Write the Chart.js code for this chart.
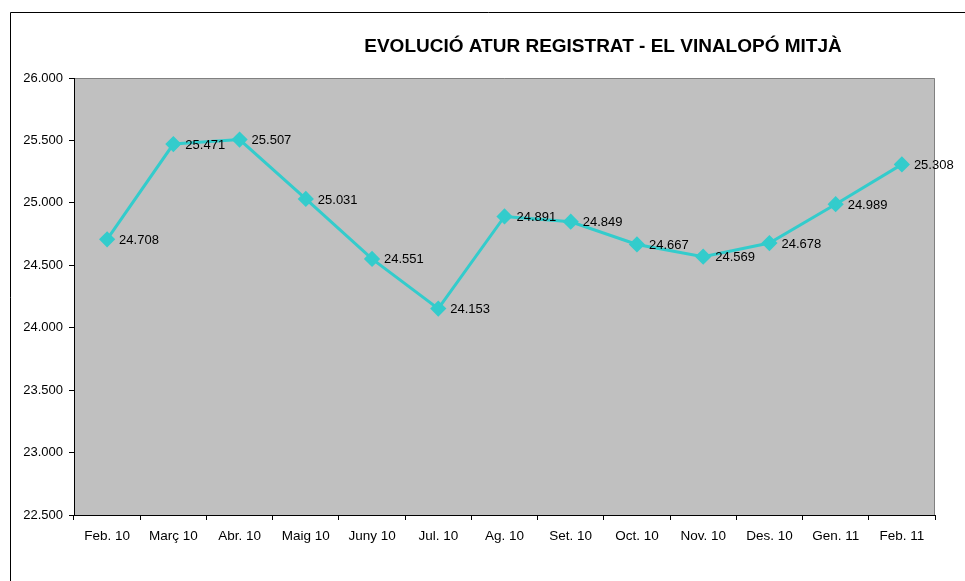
<!DOCTYPE html>
<html>
<head>
<meta charset="utf-8">
<script src="https://cdn.jsdelivr.net/npm/chart.js@4/dist/chart.umd.min.js"></script>
<style>
  body { margin: 0; background: #fff; }
  #wrap { width: 965px; height: 581px; }
</style>
</head>
<body>
<div id="wrap"><canvas id="chart"></canvas></div>
<script>
const months = ['Feb. 10', 'Març 10', 'Abr. 10', 'Maig 10', 'Juny 10', 'Jul. 10', 'Ag. 10',
  'Set. 10', 'Oct. 10', 'Nov. 10', 'Des. 10', 'Gen. 11', 'Feb. 11'];
const atur = [24708, 25471, 25507, 25031, 24551, 24153, 24891, 24849, 24667, 24569, 24678, 24989, 25308];
const yMin = 22500;
const yMax = 26000;
const yStep = 500;
const title = 'EVOLUCIÓ ATUR REGISTRAT - EL VINALOPÓ MITJÀ';

const FONT = 'Liberation Sans, Arial, sans-serif';

// 24708 -> "24.708"
const fmt = v => v.toLocaleString('de-DE');

const framePlugin = {
  id: 'frame',
  beforeDraw(chart) {
    const { ctx, chartArea: a } = chart;
    ctx.save();
    ctx.fillStyle = '#c0c0c0';
    ctx.fillRect(a.left, a.top, a.right - a.left, a.bottom - a.top);
    ctx.strokeStyle = '#808080';
    ctx.lineWidth = 1;
    ctx.beginPath();
    ctx.moveTo(a.left, a.top + 0.5);
    ctx.lineTo(a.right - 0.5, a.top + 0.5);
    ctx.lineTo(a.right - 0.5, a.bottom);
    ctx.stroke();
    // outer chart border
    ctx.strokeStyle = '#000';
    ctx.beginPath();
    ctx.moveTo(10.5, 590);
    ctx.lineTo(10.5, 12.5);
    ctx.lineTo(970, 12.5);
    ctx.stroke();
    // title
    ctx.fillStyle = '#000';
    ctx.font = 'bold 19px ' + FONT;
    ctx.textAlign = 'center';
    ctx.textBaseline = 'middle';
    ctx.fillText(title, 603, 47);
    ctx.restore();
  },
  afterDatasetsDraw(chart) {
    const { ctx } = chart;
    const meta = chart.getDatasetMeta(0);
    ctx.save();
    ctx.fillStyle = '#000';
    ctx.font = '13px ' + FONT;
    ctx.textAlign = 'left';
    ctx.textBaseline = 'middle';
    meta.data.forEach((pt, i) => {
      ctx.fillText(fmt(atur[i]), pt.x + 12, pt.y + 1);
    });
    ctx.restore();
  }
};

new Chart(document.getElementById('chart'), {
  type: 'line',
  data: {
    labels: months,
    datasets: [{
      data: atur,
      borderColor: '#33cccc',
      backgroundColor: '#33cccc',
      borderWidth: 3,
      pointStyle: 'rectRot',
      pointRadius: 6,
      pointHoverRadius: 6,
      tension: 0
    }]
  },
  options: {
    responsive: true,
    maintainAspectRatio: false,
    animation: false,
    layout: { padding: { left: 0, top: 78, right: 30, bottom: 0 } },
    plugins: {
      legend: { display: false },
      tooltip: { enabled: false }
    },
    scales: {
      x: {
        offset: true,
        afterFit: s => { s.height = 66; },
        grid: { offset: true, drawOnChartArea: false, tickLength: 5, color: '#000' },
        border: { color: '#000', width: 1 },
        ticks: { color: '#000', font: { family: FONT, size: 13.5 }, padding: 8, maxRotation: 0, autoSkip: false }
      },
      y: {
        min: yMin,
        max: yMax,
        afterFit: s => { s.width = 74; },
        grid: { drawOnChartArea: false, tickLength: 5, color: '#000' },
        border: { color: '#000', width: 1 },
        ticks: {
          stepSize: yStep,
          color: '#000',
          font: { family: FONT, size: 13 },
          padding: 6,
          callback: v => fmt(v)
        }
      }
    }
  },
  plugins: [framePlugin]
});
</script>
</body>
</html>
